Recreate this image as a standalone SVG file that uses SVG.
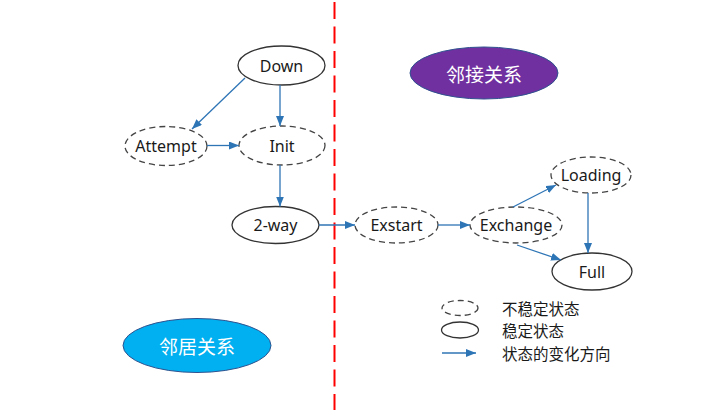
<svg xmlns="http://www.w3.org/2000/svg" width="718" height="410" viewBox="0 0 718 410">
<defs>
<marker id="ah" markerUnits="userSpaceOnUse" markerWidth="10" markerHeight="8" refX="10" refY="4" orient="auto">
<path d="M0,0 L10,4 L0,8 z" fill="#2E75B6"/>
</marker>
<style>
.st{fill:#fff;stroke:#333;stroke-width:1.3}
.un{fill:#fff;stroke:#444;stroke-width:1.3;stroke-dasharray:6 4}
.t{font-family:"Noto Sans","Open Sans",sans-serif;font-size:16px;fill:#1a1a1a;text-anchor:middle;dominant-baseline:central}
.c{font-family:"Noto Sans CJK SC",sans-serif;font-size:19px;fill:#fff;text-anchor:middle;dominant-baseline:central}
.lg{font-family:"Noto Sans CJK SC",sans-serif;font-size:15.5px;fill:#1a1a1a;dominant-baseline:central}
.e{stroke:#2E75B6;stroke-width:1.3;fill:none;marker-end:url(#ah)}
</style>
</defs>
<rect width="718" height="410" fill="#fff"/>
<line x1="334.5" y1="2" x2="334.5" y2="410" stroke="#FF0000" stroke-width="2" stroke-dasharray="17 7.5"/>
<g id="adj"><ellipse cx="484" cy="73" rx="74" ry="26" fill="#7030A0" stroke="#2F528F" stroke-width="1"/><text class="c" x="484" y="73">邻接关系</text></g>
<g id="nbr"><ellipse cx="197" cy="345.5" rx="74" ry="27" fill="#00B0F0" stroke="#2F528F" stroke-width="1"/><text class="c" x="197" y="345.5">邻居关系</text></g>
<g id="down"><ellipse class="st" cx="281.5" cy="65.5" rx="43.5" ry="19.5"/><text class="t" x="281.5" y="65.5">Down</text></g>
<g id="attempt"><ellipse class="un" cx="166" cy="146" rx="41" ry="19.5"/><text class="t" x="166" y="146">Attempt</text></g>
<g id="init"><ellipse class="un" cx="282" cy="145.5" rx="43" ry="19.5"/><text class="t" x="282" y="145.5">Init</text></g>
<g id="twoway"><ellipse class="st" cx="275.5" cy="225" rx="43.5" ry="18.5"/><text class="t" x="275.5" y="225">2-way</text></g>
<g id="exstart"><ellipse class="un" cx="396.5" cy="225" rx="41.5" ry="18"/><text class="t" x="396.5" y="225">Exstart</text></g>
<g id="exchange"><ellipse class="un" cx="516" cy="225" rx="46" ry="18"/><text class="t" x="516" y="225">Exchange</text></g>
<g id="loading"><ellipse class="un" cx="591" cy="175" rx="40" ry="18"/><text class="t" x="591" y="175">Loading</text></g>
<g id="full"><ellipse class="st" cx="592" cy="271.5" rx="40" ry="18.5"/><text class="t" x="592" y="271.5">Full</text></g>
<g id="connectors">
<line class="e" x1="245" y1="78" x2="192" y2="129"/>
<line class="e" x1="280" y1="85" x2="280" y2="126"/>
<line class="e" x1="207" y1="145.5" x2="239" y2="145.5"/>
<line class="e" x1="280" y1="165" x2="280" y2="206.5"/>
<line class="e" x1="319" y1="225" x2="355" y2="225"/>
<line class="e" x1="438" y1="225" x2="470" y2="225"/>
<line class="e" x1="513" y1="207" x2="556" y2="185"/>
<line class="e" x1="517" y1="245" x2="561" y2="260"/>
<line class="e" x1="588" y1="193" x2="588" y2="253"/>
</g>
<g id="legend">
<ellipse class="un" cx="460" cy="308" rx="18" ry="7.5" stroke-dasharray="5 4"/>
<ellipse class="st" cx="460" cy="330" rx="18.5" ry="8"/>
<line class="e" x1="442" y1="353" x2="476" y2="353"/>
<text class="lg" x="502" y="308">不稳定状态</text>
<text class="lg" x="502" y="330">稳定状态</text>
<text class="lg" x="502" y="353">状态的变化方向</text>
</g>
</svg>
